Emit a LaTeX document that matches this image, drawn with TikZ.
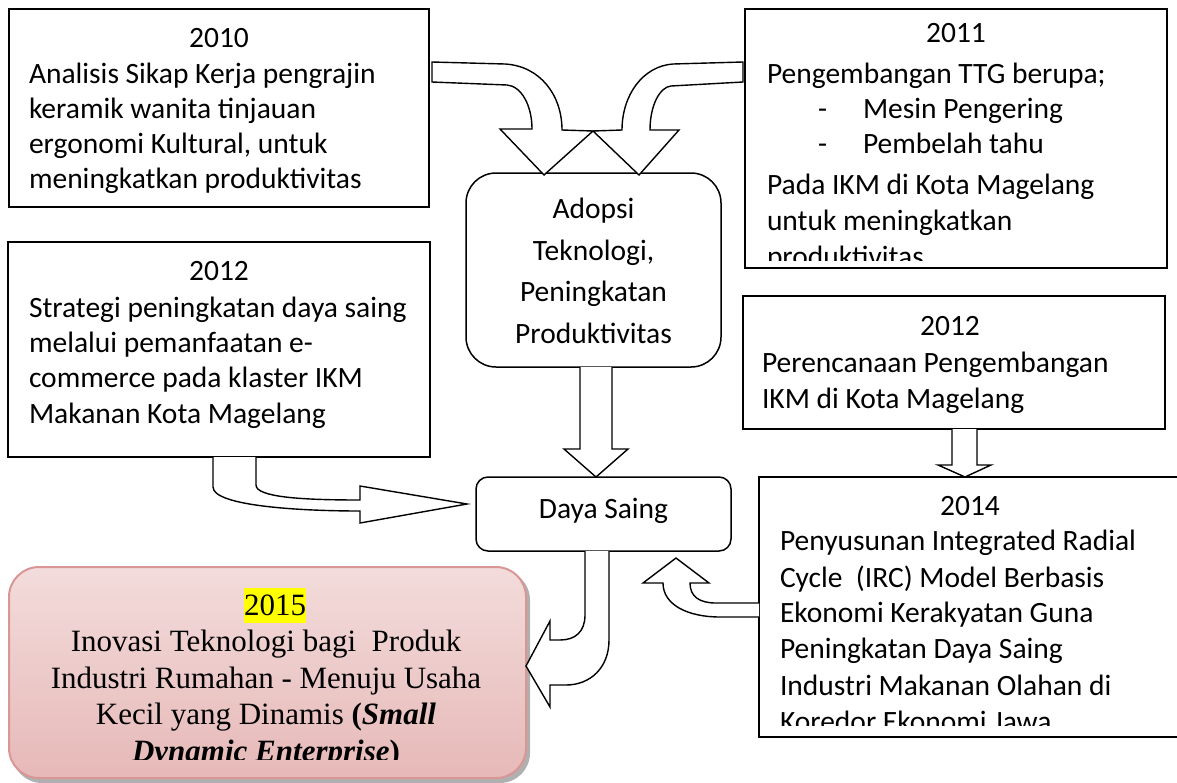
\documentclass[tikz,border=0pt]{standalone}
\usepackage{fontspec}
\setmainfont{Carlito}
\newfontfamily\timesf{Liberation Serif}
\definecolor{pinkborder}{HTML}{D99694}
\definecolor{pinktop}{HTML}{F2DCDB}
\definecolor{pinkmid}{HTML}{FCF4F4}
\definecolor{pinkbot}{HTML}{E6B9B8}
\definecolor{hl}{HTML}{FFFF00}
\definecolor{shadowgray}{HTML}{B0B0B0}
\begin{document}
\begin{tikzpicture}[x=1pt,y=-1pt,
  boxst/.style={draw=black, line width=1.5pt, fill=white, inner sep=0pt, outer sep=0pt},
  rbox/.style={boxst, rounded corners=#1},
  arr/.style={draw=black, line width=1.4pt, fill=white, line join=miter},
  txt/.style={inner sep=0pt, outer sep=0pt, font=\fontsize{29.5}{35}\selectfont},
  ttxt/.style={inner sep=0pt, outer sep=0pt, font=\timesf\fontsize{31}{36}\selectfont}
]
\useasboundingbox (0,0) rectangle (1177,782);
\clip (0,0) rectangle (1177,782);

% ---------- boxes ----------
\node[boxst, minimum width=420pt, minimum height=198pt] (b2010) at (219,108) {};
\node[boxst, minimum width=422pt, minimum height=215pt] (b2012l) at (219,349.5) {};
\node[boxst, minimum width=422pt, minimum height=259pt] (b2011) at (956,138.5) {};
\node[boxst, minimum width=422pt, minimum height=133pt] (b2012r) at (954,362.5) {};
\node[boxst, minimum width=431pt, minimum height=260pt] (b2014) at (974.5,607) {};
\node[rbox=30pt, minimum width=255pt, minimum height=194pt] (adopsi) at (593.5,270) {};
\node[rbox=12pt, minimum width=255pt, minimum height=74pt] (daya) at (603.5,514) {};

% 2015 box with shadow
\fill[shadowgray, rounded corners=30pt] (12,570) rectangle (530,783);
\node[draw=pinkborder, line width=2pt, rounded corners=30pt, top color=pinktop,
      middle color=pinkmid, bottom color=pinkbot, inner sep=0pt, outer sep=0pt,
      minimum width=517pt, minimum height=211pt] (b2015) at (267.5,672.5) {};

% ---------- block arrows ----------
% 2010 -> Adopsi
\draw[arr] (432,62) -- (505,64) .. controls (540,66) and (562,95) .. (562,130)
  -- (593,131) -- (544,175) -- (500,129) -- (532,129)
  .. controls (532,105) and (521,86) .. (507,85) -- (432,82) -- cycle;
% 2011 -> Adopsi
\draw[arr] (743,62) -- (673,64) .. controls (643,66) and (622,95) .. (622,130)
  -- (593,131) -- (639,175) -- (679,130) -- (650,130)
  .. controls (650,105) and (660,87) .. (671,86) -- (743,82) -- cycle;
% Adopsi -> Daya Saing
\draw[arr] (580,367) -- (580,449) -- (564,449) -- (596,477) -- (628,449) -- (612,449) -- (612,367);
% 2012 left -> Daya Saing
\draw[arr] (213,457) -- (213,487) .. controls (213,506) and (300,511) .. (360,511)
  -- (360,523) -- (467,504) -- (360,486) -- (360,500)
  .. controls (300,500) and (256,497) .. (256,485) -- (256,457);
% 2012 right -> 2014
\draw[arr] (952,429) -- (952,465) -- (938,465) -- (965,477) -- (991,465) -- (977,465) -- (977,429);
% 2014 -> Daya Saing
\draw[arr] (759,617) -- (720,617) .. controls (688,617) and (663,605) .. (663,583)
  -- (643,583) -- (676,558) -- (709,583) -- (690,583)
  .. controls (690,597) and (700,603) .. (716,603) -- (759,603);
% Daya Saing -> 2015
\draw[arr] (585,551) -- (585,615) .. controls (585,632) and (575,640) .. (560,640)
  -- (550,640) -- (550,621) -- (526,666) -- (550,707) -- (550,685) -- (566,685)
  .. controls (590,685) and (609,668) .. (609,640) -- (609,551);

% ---------- texts ----------
\node[txt, anchor=base] (y2010) at (219,47) {2010};
\node[txt, anchor=base west] (t2010a) at (29,83) {Analisis Sikap Kerja pengrajin};
\node[txt, anchor=base west] (t2010b) at (29,118) {keramik wanita tinjauan};
\node[txt, anchor=base west] (t2010c) at (29,153) {ergonomi Kultural, untuk};
\node[txt, anchor=base west] (t2010d) at (29,188) {meningkatkan produktivitas};

\node[txt, anchor=base] (y2012l) at (219,280) {2012};
\node[txt, anchor=base west] (t2012a) at (29,317) {Strategi peningkatan daya saing};
\node[txt, anchor=base west] (t2012b) at (29,352) {melalui pemanfaatan e-};
\node[txt, anchor=base west] (t2012c) at (29,387) {commerce pada klaster IKM};
\node[txt, anchor=base west] (t2012d) at (29,423) {Makanan Kota Magelang};

\begin{scope}
\clip (746,10) rectangle (1166,260);
\node[txt, anchor=base] (y2011) at (956,42) {2011};
\node[txt, anchor=base west] (t2011a) at (767,83) {Pengembangan TTG berupa;};
\node[txt, anchor=base west] (t2011b) at (818,118) {-};
\node[txt, anchor=base west] (t2011c) at (863,118) {Mesin Pengering};
\node[txt, anchor=base west] (t2011d) at (818,153) {-};
\node[txt, anchor=base west] (t2011e) at (863,153) {Pembelah tahu};
\node[txt, anchor=base west] (t2011f) at (767,194) {Pada IKM di Kota Magelang};
\node[txt, anchor=base west] (t2011g) at (767,230) {untuk meningkatkan};
\node[txt, anchor=base west] (t2011h) at (767,266) {produktivitas};
\end{scope}

\node[txt, anchor=base] (y2012r) at (950,335) {2012};
\node[txt, anchor=base west] (t2012r1) at (762,372) {Perencanaan Pengembangan};
\node[txt, anchor=base west] (t2012r2) at (762,408) {IKM di Kota Magelang};

\begin{scope}
\clip (760,478) rectangle (1177,725);
\node[txt, anchor=base] (y2014) at (970,515) {2014};
\node[txt, anchor=base west] (t2014a) at (780,550) {Penyusunan Integrated Radial};
\node[txt, anchor=base west] (t2014b) at (780,587) {Cycle\ \ (IRC) Model Berbasis};
\node[txt, anchor=base west] (t2014c) at (780,622) {Ekonomi Kerakyatan Guna};
\node[txt, anchor=base west] (t2014d) at (780,658) {Peningkatan Daya Saing};
\node[txt, anchor=base west] (t2014e) at (780,695) {Industri Makanan Olahan di};
\node[txt, anchor=base west] (t2014f) at (780,731) {Koredor Ekonomi Jawa};
\end{scope}

\node[txt, anchor=base] (ta1) at (593.5,218) {Adopsi};
\node[txt, anchor=base] (ta2) at (593.5,260) {Teknologi,};
\node[txt, anchor=base] (ta3) at (593.5,301) {Peningkatan};
\node[txt, anchor=base] (ta4) at (593.5,343) {Produktivitas};

\node[txt, anchor=base] (tdaya) at (603.5,518) {Daya Saing};

\begin{scope}
\clip (10,568) rectangle (525,759);
\node[ttxt, anchor=base, fill=hl, text height=27pt, text depth=8pt] (y2015) at (275,615) {2015};
\node[ttxt, anchor=base] (t2015a) at (266,651) {Inovasi Teknologi bagi\ \ Produk};
\node[ttxt, anchor=base] (t2015b) at (266,688) {Industri Rumahan - Menuju Usaha};
\node[ttxt, anchor=base] (t2015c) at (266,724) {Kecil yang Dinamis \textbf{(\textit{Small}}};
\node[ttxt, anchor=base] (t2015d) at (266,761) {\textbf{\textit{Dynamic Enterprise})}};
\end{scope}
\end{tikzpicture}
\end{document}
